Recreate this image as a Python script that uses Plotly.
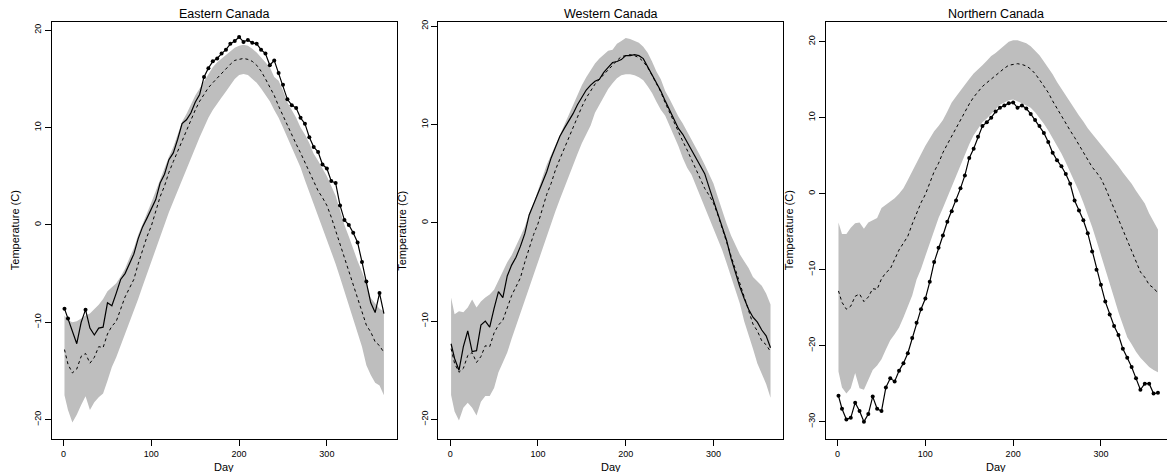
import plotly.graph_objects as go

# ---------------- data ----------------
DAY = [1] + list(range(5, 366, 5))

# Canada-wide mean curve (dashed, identical in the three panels)
MEAN = [-12.8, -14.3, -15.2, -14.8, -13.5, -13.2, -14.2, -13.6, -12.5, -12.6,
        -11.2, -10.4, -9.9, -8.6, -7.4, -6.5, -5.6, -4.0, -2.5, -1.2,
        -0.1, 1.4, 2.9, 4.0, 5.4, 6.5, 7.6, 8.7, 9.8, 10.9,
        11.8, 12.7, 13.4, 14.1, 14.6, 15.1, 15.5, 16.0, 16.5, 16.9,
        17.0, 17.1, 17.0, 16.8, 16.4, 15.8, 15.0, 14.2, 13.3, 12.2,
        11.2, 10.2, 9.2, 8.3, 7.4, 6.4, 5.4, 4.5, 3.5, 2.8,
        2.0, 0.8, -0.6, -2.0, -3.4, -4.6, -6.0, -7.4, -9.0, -10.3,
        -11.0, -12.0, -12.4, -13.1]

# Eastern Canada
EAST = [-8.6, -9.6, -10.8, -12.2, -10.0, -8.7, -10.6, -11.3, -10.6, -10.5,
        -8.0, -8.3, -7.0, -5.6, -5.0, -3.9, -3.0, -1.4, -0.2, 0.7,
        1.6, 2.6, 4.3, 5.2, 6.7, 7.4, 8.8, 10.4, 10.8, 11.5,
        12.6, 13.4, 15.2, 16.1, 16.8, 17.1, 17.6, 18.0, 18.6, 18.9,
        19.3, 18.8, 19.0, 18.7, 18.6, 18.0, 17.6, 16.4, 16.9, 15.6,
        14.4, 12.9, 12.3, 12.0, 11.0, 10.4, 9.0, 8.0, 7.5, 6.2,
        5.8, 4.5, 4.3, 2.0, 0.5, 0.0, -0.8, -1.8, -3.8, -5.8,
        -8.0, -9.0, -7.0, -9.1]
EAST_LO = [-17.5, -19.0, -20.3, -19.5, -18.5, -17.6, -19.0, -18.2, -17.7, -17.3,
           -16.0, -14.6, -13.6, -12.4, -11.2, -10.2, -8.8, -7.6, -6.3, -5.0,
           -3.8, -2.4, -1.2, 0.0, 1.3, 2.4, 3.5, 4.7, 5.8, 6.9,
           8.0, 9.0, 10.0, 11.0, 11.8, 12.5, 13.1, 13.7, 14.4, 15.0,
           15.4, 15.5, 15.4, 15.0, 14.6, 14.0, 13.4, 12.7, 11.8, 11.0,
           10.0, 9.0, 7.9, 6.9, 5.9, 4.6, 3.4, 2.2, 1.0, -0.3,
           -1.4, -2.7, -4.0, -5.4, -6.8, -8.3, -9.8, -11.0, -12.5, -14.4,
           -15.4, -16.2, -16.5, -17.5]
EAST_HI = [-9.3, -9.8, -10.0, -9.9, -9.6, -9.3, -9.1, -8.7, -8.2, -7.6,
           -6.8, -6.4, -6.0, -5.3, -4.5, -3.4, -2.4, -1.0, 0.2, 1.2,
           2.3, 3.5, 4.8, 5.9, 7.0, 8.0, 9.2, 10.6, 11.4, 12.4,
           13.3, 14.0, 14.7, 15.5, 16.2, 16.7, 17.1, 17.5, 17.9, 18.2,
           18.4, 18.5, 18.4, 18.1, 17.7, 17.2, 16.7, 16.2, 15.2, 14.8,
           13.8, 12.6, 11.8, 11.0, 10.0, 9.3, 8.4, 7.3, 6.6, 5.8,
           5.0, 4.0, 3.0, 1.5, 0.0, -1.2, -2.5, -3.7, -4.8, -6.0,
           -7.5, -8.1, -8.6, -8.9]

# Western Canada
WEST = [-12.3, -13.8, -15.0, -12.6, -11.0, -13.1, -13.0, -10.4, -10.0, -10.6,
        -8.7, -7.0, -7.6, -5.4, -4.3, -3.5, -2.4, -1.1, 0.8, 1.9,
        2.9, 4.0, 5.2, 6.6, 7.8, 8.8, 9.6, 10.3, 11.1, 12.0,
        12.7, 13.5, 14.0, 14.4, 14.6, 15.3, 15.8, 16.3, 16.4, 16.6,
        17.0, 17.0, 17.1, 17.0, 16.7, 15.9, 15.0, 14.2, 13.4, 12.4,
        11.5, 10.5, 9.6, 9.0, 8.2, 7.4, 6.6, 5.8, 5.0, 3.6,
        2.3, 1.0, -0.4, -1.8, -3.6, -5.1, -6.5, -7.7, -8.8, -9.6,
        -10.1, -10.9, -11.5, -12.7]
WEST_LO = [-17.5, -19.2, -20.1, -18.8, -18.3, -18.8, -19.6, -18.2, -17.6, -17.6,
           -16.8, -15.2, -14.2, -13.2, -11.8, -10.5, -9.2, -7.9, -6.5, -5.2,
           -3.9, -2.5, -1.2, 0.0, 1.2, 2.4, 3.6, 4.8, 5.9, 7.0,
           8.1, 9.0, 9.9, 11.2, 12.0, 12.8, 13.6, 14.2, 14.7, 15.0,
           15.1, 15.1, 15.0, 14.8, 14.5, 13.9, 13.2, 12.3, 11.5, 10.9,
           9.9, 8.8, 7.8, 6.6, 5.6, 4.9, 3.8, 2.8, 1.8, 0.6,
           -0.5, -1.6, -2.8, -4.1, -5.4, -6.8, -8.2, -10.0, -11.3, -12.8,
           -14.3, -15.4, -16.4, -17.8]
WEST_HI = [-7.6, -9.3, -9.0, -9.1, -8.6, -7.8, -8.6, -8.0, -7.6, -7.3,
           -6.8, -5.9, -5.0, -4.0, -3.3, -2.4, -1.4, -0.4, 1.0, 2.0,
           3.2, 4.6, 5.9, 6.9, 8.0, 9.0, 10.0, 11.0, 12.0, 13.0,
           14.0, 14.8, 15.5, 16.2, 16.7, 17.1, 17.5, 17.6, 18.2, 18.5,
           18.8, 18.7, 18.5, 18.3, 17.9, 17.3, 16.4, 15.4, 14.6, 13.4,
           12.6, 11.7, 10.8, 10.1, 9.3, 8.5, 7.6, 6.8, 5.9, 5.0,
           4.0, 2.6, 1.2, -0.1, -1.3, -2.3, -3.2, -3.9, -4.6, -5.5,
           -5.9, -6.4, -7.2, -8.3]

# Northern Canada
NORTH = [-26.6, -28.3, -29.7, -29.5, -27.5, -28.6, -30.0, -29.0, -26.7, -28.3,
         -28.6, -25.5, -24.3, -24.7, -23.3, -22.3, -21.0, -19.0, -17.0, -15.2,
         -13.8, -11.6, -9.0, -7.1, -5.5, -3.7, -2.3, -0.9, 0.7, 2.4,
         4.7, 5.9, 7.5, 8.9, 9.4, 10.0, 10.8, 11.3, 11.6, 11.9,
         12.0, 11.3, 11.6, 11.2, 10.5, 9.7, 8.9, 8.0, 6.8, 5.4,
         4.4, 3.6, 2.6, 1.3, -0.9, -2.2, -3.5, -5.2, -7.6, -10.0,
         -12.0, -14.2, -15.9, -17.4, -18.6, -20.4, -21.6, -22.8, -24.3, -25.8,
         -25.0, -25.0, -26.3, -26.2]
NORTH_LO = [-23.4, -25.5, -26.3, -25.6, -23.6, -25.6, -25.8, -24.6, -23.2, -22.6,
            -21.8, -20.5, -19.3, -18.5, -17.6, -16.3, -14.8, -13.4, -11.3, -9.9,
            -8.2, -6.5, -4.6, -3.2, -1.9, -0.5, 1.0, 2.4, 3.8, 5.3,
            6.5, 7.7, 8.6, 9.4, 9.9, 10.5, 11.1, 11.7, 12.0, 12.3,
            12.4, 12.2, 11.9, 11.6, 11.3, 10.7, 10.0, 9.2, 8.3, 7.3,
            6.4, 5.3, 4.1, 2.9, 1.6, 0.3, -1.2, -2.7, -4.4, -6.2,
            -8.0, -10.0, -11.8, -13.7, -15.6, -17.4, -18.9, -19.8, -20.8, -21.6,
            -22.2, -22.8, -23.2, -23.5]
NORTH_HI = [-3.8, -5.3, -5.3, -4.5, -3.9, -3.8, -4.6, -3.8, -3.5, -3.2,
            -1.9, -1.5, -1.1, -0.6, 0.0, 0.7, 1.8, 3.0, 4.0, 5.2,
            6.3, 7.3, 8.2, 8.9, 9.7, 10.8, 12.0, 12.8, 13.6, 14.4,
            15.1, 15.8, 16.3, 16.9, 17.5, 18.1, 18.5, 19.0, 19.6, 20.0,
            20.2, 20.2, 20.0, 19.8, 19.4, 18.8, 18.2, 17.4, 16.6, 15.7,
            14.7, 13.8, 12.9, 12.0, 11.2, 10.3, 9.5, 8.6, 7.9, 7.2,
            6.5, 5.8, 5.0, 4.3, 3.6, 2.8, 2.1, 1.3, 0.4, -0.5,
            -1.3, -2.6, -3.7, -4.7]

TITLES = ["Eastern Canada", "Western Canada", "Northern Canada"]
X_TICKS = [0, 100, 200, 300]
Y_TICKS = [[-20, -10, 0, 10, 20], [-20, -10, 0, 10, 20], [-30, -20, -10, 0, 10, 20]]

# ---------------- layout geometry ----------------
W, H = 1167, 472
X_DOM = [(51.7 / W, 396.7 / W), (438.3 / W, 783.3 / W), (825.7 / W, 1.0)]
Y_DOM = (1 - 439 / H, 1 - 20 / H)
X_RANGES = [[-13.56, 379.56], [-13.56, 379.56], [-13.56, 375.3]]
Y_RANGES = [[-22.0, 20.85], [-22.0, 20.43], [-32.3, 22.6]]

FONT = "Liberation Sans, Arial, Helvetica, sans-serif"
GREY = "#bebebe"

panels = [(EAST, EAST_LO, EAST_HI), (WEST, WEST_LO, WEST_HI), (NORTH, NORTH_LO, NORTH_HI)]

fig = go.Figure()
annotations = []
for i, (vals, lo, hi) in enumerate(panels):
    sfx = "" if i == 0 else str(i + 1)
    xa, ya = "x" + sfx, "y" + sfx
    fig.add_trace(go.Scatter(x=DAY, y=lo, mode="lines", line=dict(width=0, color=GREY),
                             xaxis=xa, yaxis=ya, showlegend=False, hoverinfo="skip"))
    fig.add_trace(go.Scatter(x=DAY, y=hi, mode="lines", line=dict(width=0, color=GREY),
                             fill="tonexty", fillcolor=GREY,
                             xaxis=xa, yaxis=ya, showlegend=False, hoverinfo="skip"))
    fig.add_trace(go.Scatter(x=DAY, y=MEAN, mode="lines",
                             line=dict(color="black", width=1, dash="3px,3px"),
                             xaxis=xa, yaxis=ya, showlegend=False))
    fig.add_trace(go.Scatter(x=DAY, y=vals, mode="lines",
                             line=dict(color="black", width=1.2),
                             xaxis=xa, yaxis=ya, showlegend=False))
    sig = [(d, v) for d, v, l, h in zip(DAY, vals, lo, hi) if v > h or v < l]
    if sig:
        fig.add_trace(go.Scatter(x=[s[0] for s in sig], y=[s[1] for s in sig], mode="markers",
                                 marker=dict(color="black", size=4),
                                 xaxis=xa, yaxis=ya, showlegend=False))

    axis_common = dict(showline=True, linecolor="black", linewidth=1,
                       ticks="outside", ticklen=6, tickwidth=1, tickcolor="black",
                       showgrid=False, zeroline=False,
                       tickfont=dict(family=FONT, size=9, color="black"))
    fig.update_layout(**{
        "xaxis" + sfx: dict(domain=list(X_DOM[i]), range=X_RANGES[i], anchor=ya,
                            tickvals=X_TICKS, mirror=True, **axis_common),
        "yaxis" + sfx: dict(domain=list(Y_DOM), range=Y_RANGES[i], anchor=xa,
                            tickvals=Y_TICKS[i], tickangle=-90,
                            mirror=(i < 2), **axis_common),
    })
    xc = (X_DOM[i][0] + min(X_DOM[i][0] + 345 / W, 1.0)) / 2
    annotations.append(dict(text=TITLES[i], x=xc, y=Y_DOM[1], xref="paper", yref="paper",
                            xanchor="center", yanchor="bottom", yshift=-1, showarrow=False,
                            font=dict(family=FONT, size=12.5, color="black")))
    annotations.append(dict(text="Day", x=xc, y=Y_DOM[0], xref="paper", yref="paper",
                            xanchor="center", yanchor="middle", yshift=-28, showarrow=False,
                            font=dict(family=FONT, size=11, color="black")))
    annotations.append(dict(text="Temperature (C)", x=X_DOM[i][0], y=sum(Y_DOM) / 2,
                            xref="paper", yref="paper", xanchor="center", yanchor="middle",
                            xshift=-37, textangle=-90, showarrow=False,
                            font=dict(family=FONT, size=11, color="black")))

fig.update_layout(width=W, height=H, margin=dict(l=0, r=0, t=0, b=0),
                  paper_bgcolor="white", plot_bgcolor="white",
                  annotations=annotations, showlegend=False)

fig.write_html("out.html", config={"displayModeBar": False},
               post_script="document.body.style.margin='0';document.body.style.padding='0';"
                           "document.body.style.overflow='hidden';")
